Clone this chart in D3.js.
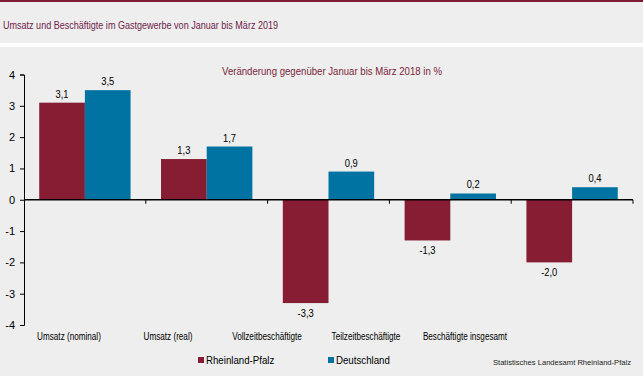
<!DOCTYPE html>
<html>
<head>
<meta charset="utf-8">
<script src="https://cdn.jsdelivr.net/npm/d3@7"></script>
<style>
  html, body { margin: 0; padding: 0; background: #fff; }
  svg { display: block; font-family: "Liberation Sans", Arial, sans-serif; }
</style>
</head>
<body>
<div id="chart"></div>
<script>
// Data
const categories = ["Umsatz (nominal)", "Umsatz (real)", "Vollzeitbeschäftigte", "Teilzeitbeschäftigte", "Beschäftigte insgesamt"];
const seriesNames = ["Rheinland-Pfalz", "Deutschland"];
const rlpValues = [3.1, 1.3, -3.3, -1.3, -2.0];
const deValues = [3.5, 1.7, 0.9, 0.2, 0.4];
const yTicks = [-4, -3, -2, -1, 0, 1, 2, 3, 4];

const width = 643, height = 376;
const colors = { "Rheinland-Pfalz": "#861d33", "Deutschland": "#0073a3" };
const fmt = v => d3.format(".1f")(v).replace(".", ",").replace("−", "-");

// the original text is set rather narrow: squeeze each label a bit
function squeeze(sel, k) {
    sel.each(function () {
        const w = this.getComputedTextLength();
        d3.select(this).attr("textLength", w * k).attr("lengthAdjust", "spacingAndGlyphs");
    });
}

const svg = d3.select("#chart").append("svg")
    .attr("width", width).attr("height", height);

// Backgrounds
svg.append("rect").attr("width", width).attr("height", 43).attr("fill", "#edeeed");
svg.append("rect").attr("width", width).attr("height", 2).attr("fill", "#7d1b35");
svg.append("rect").attr("y", 47).attr("width", width).attr("height", height - 47).attr("fill", "#edeeed");

svg.append("text")
    .attr("x", 3).attr("y", 29)
    .attr("font-size", 11.5).attr("fill", "#70214a")
    .attr("textLength", 275).attr("lengthAdjust", "spacingAndGlyphs")
    .text("Umsatz und Beschäftigte im Gastgewerbe von Januar bis März 2019");

// Scales
const x0 = d3.scaleBand().domain(categories).range([24, 633]).paddingInner(0.25).paddingOuter(0.125);
const band = d3.scaleBand().domain(categories).range([24, 633]);
const x1 = d3.scaleBand().domain(seriesNames).range([0, x0.bandwidth()]);
const y = d3.scaleLinear().domain([-4, 4]).range([325, 74.5]);
const labelX = d3.scalePoint().domain(categories).range([69, 465]);

svg.append("text")
    .attr("x", 332).attr("y", 75).attr("text-anchor", "middle")
    .attr("font-size", 10.5).attr("fill", "#7b1f3b")
    .attr("textLength", 220).attr("lengthAdjust", "spacingAndGlyphs")
    .text("Veränderung gegenüber Januar bis März 2018 in %");

// Y axis
const yAxis = svg.append("g")
    .attr("transform", "translate(24,0)")
    .call(d3.axisLeft(y).tickValues(yTicks).tickSize(4).tickPadding(5).tickFormat(d => d3.format("d")(d).replace("−", "-")));
yAxis.select(".domain").attr("stroke", "#000");
yAxis.selectAll(".tick line").attr("stroke", "#000");
yAxis.selectAll("text").attr("font-size", 11).attr("fill", "#000").attr("font-family", "Liberation Sans, Arial, sans-serif");

// Bars
const rows = categories.map((c, i) => ({ cat: c, values: [rlpValues[i], deValues[i]] }));
const groups = svg.append("g").selectAll("g").data(rows).join("g")
    .attr("transform", d => `translate(${x0(d.cat)},0)`);

groups.selectAll("rect")
    .data(d => seriesNames.map((s, j) => ({ s, v: d.values[j] })))
    .join("rect")
    .attr("x", d => x1(d.s))
    .attr("width", x1.bandwidth())
    .attr("y", d => y(Math.max(0, d.v)))
    .attr("height", d => Math.abs(y(d.v) - y(0)))
    .attr("fill", d => colors[d.s]);

groups.selectAll("text.val")
    .data(d => seriesNames.map((s, j) => ({ s, v: d.values[j] })))
    .join("text")
    .attr("class", "val")
    .attr("x", d => x1(d.s) + x1.bandwidth() / 2)
    .attr("y", d => d.v >= 0 ? y(d.v) - 5 : y(d.v) + 14)
    .attr("text-anchor", "middle")
    .attr("font-size", 11).attr("fill", "#000")
    .text(d => fmt(d.v))
    .call(squeeze, 0.85);

// Zero line with category ticks
svg.append("line")
    .attr("x1", 24).attr("x2", 633).attr("y1", y(0)).attr("y2", y(0))
    .attr("stroke", "#000").attr("stroke-width", 1.3);
svg.append("g").selectAll("line").data(categories).join("line")
    .attr("x1", d => band(d) + band.bandwidth()).attr("x2", d => band(d) + band.bandwidth())
    .attr("y1", y(0)).attr("y2", y(0) + 4)
    .attr("stroke", "#000");

// Category labels
svg.append("g").selectAll("text").data(categories).join("text")
    .attr("x", d => labelX(d)).attr("y", 339.5)
    .attr("text-anchor", "middle")
    .attr("font-size", 11).attr("fill", "#000")
    .text(d => d)
    .call(squeeze, 0.74);

// Legend
const legendX = [198, 328];
const legend = svg.append("g").selectAll("g").data(seriesNames).join("g")
    .attr("transform", (d, i) => `translate(${legendX[i]},357)`);
legend.append("rect").attr("width", 6).attr("height", 6).attr("fill", d => colors[d]);
legend.append("text").attr("x", 8).attr("y", 7)
    .attr("font-size", 11).attr("fill", "#000").text(d => d)
    .call(squeeze, 0.88);

svg.append("text")
    .attr("x", 631).attr("y", 365).attr("text-anchor", "end")
    .attr("font-size", 7.6).attr("fill", "#222")
    .text("Statistisches Landesamt Rheinland-Pfalz");
</script>
</body>
</html>
